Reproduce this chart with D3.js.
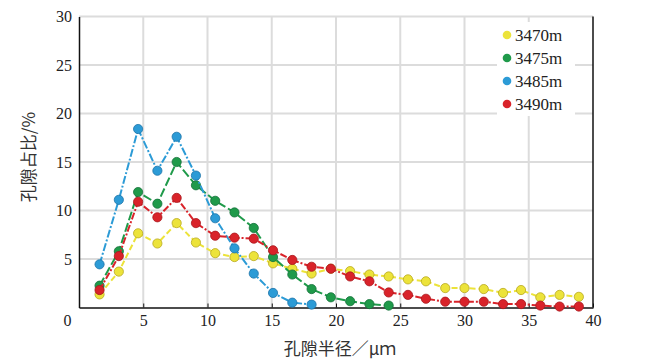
<!DOCTYPE html>
<html lang="zh">
<head>
<meta charset="UTF-8">
<title>孔隙半径分布</title>
<script src="https://cdnjs.cloudflare.com/ajax/libs/d3/7.8.5/d3.min.js"></script>
<style>
  body { margin: 0; background: #fff; }
  svg { display: block; }
  .tick text { font-family: "Liberation Serif", "DejaVu Serif", serif; font-size: 16px; fill: #222; }
  .title { font-family: "Noto Sans CJK SC", sans-serif; font-size: 17px; fill: #333; }
</style>
</head>
<body>
<div id="chart"></div>
<script>
// pore radius (μm) of each sample point
const radius = [1.6, 3.1, 4.6, 6.1, 7.6, 9.1, 10.6, 12.1, 13.6, 15.1, 16.6, 18.1, 19.6,
                21.1, 22.6, 24.1, 25.6, 27.0, 28.5, 30.0, 31.5, 33.0, 34.4, 35.9, 37.4, 38.9];

const depths = ["3470m", "3475m", "3485m", "3490m"];

const v3470 = [1.35, 3.7, 7.65, 6.6, 8.7, 6.7, 5.6, 5.2, 5.3, 4.55, 4.0, 3.5, 4.0,
               3.75, 3.4, 3.2, 2.9, 2.7, 2.0, 2.0, 1.9, 1.5, 1.8, 1.05, 1.3, 1.1];
const v3475 = [2.25, 5.8, 11.9, 10.7, 15.0, 12.6, 11.0, 9.8, 8.2, 5.2, 3.4, 1.9, 1.05,
               0.65, 0.35, 0.2];
const v3485 = [4.45, 11.1, 18.4, 14.1, 17.6, 13.6, 9.2, 6.1, 3.5, 1.5, 0.5, 0.3];
const v3490 = [1.8, 5.3, 10.9, 9.3, 11.3, 8.7, 7.4, 7.2, 7.1, 5.9, 4.9, 4.2, 4.0,
               3.2, 2.7, 1.55, 1.3, 0.9, 0.6, 0.6, 0.6, 0.35, 0.35, 0.2, 0.1, 0.1];

const xTicks = [0, 5, 10, 15, 20, 25, 30, 35, 40];
const yTicks = [5, 10, 15, 20, 25, 30];

const series = [
  { name: depths[0], values: v3470, color: "#ece33a", edge: "#b8a820", dash: "6,3" },
  { name: depths[1], values: v3475, color: "#1f9a4a", edge: "#14703a", dash: "9,3" },
  { name: depths[2], values: v3485, color: "#2c9bd6", edge: "#1d74a8", dash: "8,2,2,2" },
  { name: depths[3], values: v3490, color: "#d9232a", edge: "#a8161c", dash: "7,2,2,2" }
];

const width = 649, height = 364;
const margin = { left: 79, right: 56, top: 16.5, bottom: 56.5 };

const svg = d3.select("#chart").append("svg")
  .attr("width", width).attr("height", height);

const x = d3.scaleLinear().domain([0, 40]).range([margin.left, width - margin.right]);
const y = d3.scaleLinear().domain([0, 30]).range([height - margin.bottom, margin.top]);

// grid
svg.append("g").selectAll("line.v").data(xTicks.slice(1, -1)).join("line")
  .attr("x1", d => x(d)).attr("x2", d => x(d))
  .attr("y1", y(0)).attr("y2", y(30))
  .attr("stroke", "#dcdcdc").attr("stroke-width", 2);
svg.append("g").selectAll("line.h").data(yTicks).join("line")
  .attr("x1", x(0)).attr("x2", x(40))
  .attr("y1", d => y(d)).attr("y2", d => y(d))
  .attr("stroke", "#dcdcdc").attr("stroke-width", 2);

// axes
const xAxis = svg.append("g")
  .attr("transform", `translate(0,${y(0)})`)
  .call(d3.axisBottom(x).tickValues(xTicks).tickSizeInner(-4).tickSizeOuter(0).tickPadding(7));
xAxis.select(".domain").attr("stroke", "#111").attr("stroke-width", 1.5);
xAxis.selectAll(".tick line").attr("stroke", "#111");
xAxis.selectAll(".tick").filter(d => d === 0).select("text").attr("dx", -12);

const yAxis = svg.append("g")
  .attr("transform", `translate(${x(0)},0)`)
  .call(d3.axisLeft(y).tickValues(yTicks).tickSize(0).tickPadding(7));
yAxis.select(".domain").attr("stroke", "#111").attr("stroke-width", 1.5);

// right border
svg.append("line")
  .attr("x1", x(40)).attr("x2", x(40)).attr("y1", y(30)).attr("y2", y(0))
  .attr("stroke", "#111").attr("stroke-width", 1.5);

// lines and markers
const line = d3.line().x((d, i) => x(radius[i])).y(d => y(d));

series.forEach(s => {
  const g = svg.append("g");
  g.append("path").datum(s.values)
    .attr("d", line)
    .attr("fill", "none")
    .attr("stroke", s.color)
    .attr("stroke-width", 2)
    .attr("stroke-dasharray", s.dash);
  g.selectAll("circle").data(s.values).join("circle")
    .attr("cx", (d, i) => x(radius[i]))
    .attr("cy", d => y(d))
    .attr("r", 4.6)
    .attr("fill", s.color)
    .attr("stroke", s.edge)
    .attr("stroke-width", 0.8);
});

// legend
const lg = svg.append("g");
lg.append("rect").attr("x", 497).attr("y", 22).attr("width", 78).attr("height", 94).attr("fill", "#fff");
series.forEach((s, i) => {
  const cy = 35 + i * 23;
  lg.append("circle").attr("cx", 507).attr("cy", cy).attr("r", 4.3).attr("fill", s.color);
  lg.append("text").attr("x", 515).attr("y", cy).attr("dy", "0.35em")
    .attr("font-family", "Liberation Serif, serif").attr("font-size", 17).attr("fill", "#222")
    .text(s.name);
});

// titles
svg.append("text").attr("class", "title")
  .attr("x", 340).attr("y", 355).attr("text-anchor", "middle")
  .text("孔隙半径／μｍ");
svg.append("text").attr("class", "title")
  .attr("transform", `translate(35,157) rotate(-90)`).attr("text-anchor", "middle")
  .text("孔隙占比/%");
</script>
</body>
</html>
